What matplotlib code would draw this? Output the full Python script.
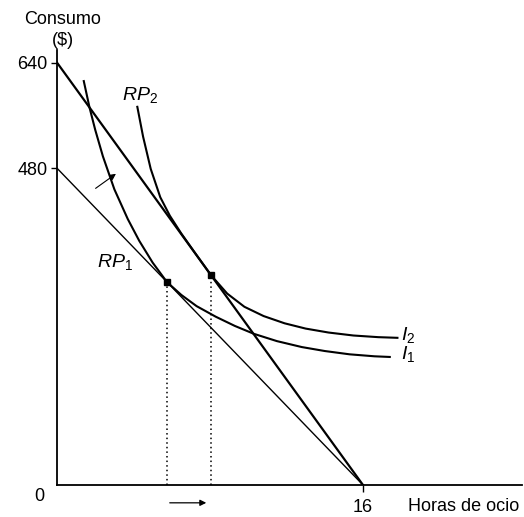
import matplotlib
matplotlib.use("Agg")
import matplotlib.pyplot as plt

plt.rcParams['font.family'] = ['Liberation Sans', 'DejaVu Sans']
plt.rcParams['mathtext.fontset'] = 'custom'
plt.rcParams['mathtext.rm'] = 'Liberation Sans'
plt.rcParams['mathtext.it'] = 'Liberation Sans:italic'
plt.rcParams['mathtext.bf'] = 'Liberation Sans:bold'

# rectas presupuestarias (horas de ocio, consumo)
rp1_x = [0, 16]
rp1_y = [480, 0]
rp2_x = [0, 16]
rp2_y = [640, 0]

# curvas de indiferencia
i1_x = [1.4, 1.7, 2.0, 2.4, 3.0, 3.7, 4.3, 5.0, 5.75, 6.5, 7.3, 8.3, 9.3,
        10.3, 11.5, 12.8, 14.0, 15.3, 16.6, 17.4]
i1_y = [612, 572, 538, 498, 448, 403, 370, 337, 307.5, 288, 271, 255, 241,
        229, 218, 209, 203, 198, 195, 194]
i2_x = [4.2, 4.5, 4.9, 5.4, 5.9, 6.5, 7.2, 8.05, 8.9, 9.8, 10.8, 11.9, 13.0,
        14.2, 15.5, 16.8, 17.8]
i2_y = [573, 528, 479, 436, 408, 381, 352.3, 318, 290, 270, 256, 245, 237,
        231, 226.5, 224, 223]

# puntos de tangencia
tang_x = [5.75, 8.05]
tang_y = [307.5, 318]

# flechas
shift_tail = (1.9, 447)
shift_head = (3.2, 474)
leisure_arrow_y = -27

fig = plt.figure(figsize=(5.24, 5.17), dpi=100)
ax = fig.add_axes([57 / 524, 32 / 517, 465 / 524, 435 / 517])
ax.set_xlim(0, 465 / 19.125)
ax.set_ylim(0, 435 / 0.66)

ax.plot(rp1_x, rp1_y, color='black', lw=1.0)
ax.plot(rp2_x, rp2_y, color='black', lw=1.6)
ax.plot(i1_x, i1_y, color='black', lw=1.5)
ax.plot(i2_x, i2_y, color='black', lw=1.5)

for x, y in zip(tang_x, tang_y):
    ax.plot([x, x], [0, y], color='black', lw=1.1, linestyle=(0, (1, 2)))
ax.plot(tang_x, tang_y, 's', color='black', markersize=4)

ax.annotate('', xy=shift_head, xytext=shift_tail,
            arrowprops=dict(arrowstyle='-|>', lw=0.8, color='black', mutation_scale=9))
ax.annotate('', xy=(tang_x[1] - 0.1, leisure_arrow_y), xytext=(tang_x[0], leisure_arrow_y),
            annotation_clip=False,
            arrowprops=dict(arrowstyle='-|>', lw=0.9, color='black', mutation_scale=9))

for side in ['top', 'right']:
    ax.spines[side].set_visible(False)
for side in ['left', 'bottom']:
    ax.spines[side].set_linewidth(1.3)

ax.set_yticks([480, 640])
ax.set_yticklabels(['480', '640'], fontsize=13)
ax.set_xticks([16])
ax.set_xticklabels(['16'], fontsize=13)
ax.tick_params(axis='y', direction='out', length=4, width=1, pad=3)
ax.tick_params(axis='x', direction='out', length=5, width=1, pad=5)

ax.text(-0.9, -18, '0', fontsize=13, ha='center', va='center', clip_on=False)
ax.text(18.35, -32, 'Horas de ocio', fontsize=13, ha='left', va='center', clip_on=False)
ax.text(0.3, 705, 'Consumo', fontsize=13, ha='center', va='center', clip_on=False)
ax.text(0.3, 674, '($)', fontsize=13, ha='center', va='center', clip_on=False)

ax.text(3.4, 591, r'$RP_2$', fontsize=14, ha='left', va='center')
ax.text(2.1, 338, r'$RP_1$', fontsize=14, ha='left', va='center')
ax.text(18.0, 228, r'$I_2$', fontsize=14, ha='left', va='center')
ax.text(18.0, 199, r'$I_1$', fontsize=14, ha='left', va='center')

fig.savefig('out.png', dpi=100)
